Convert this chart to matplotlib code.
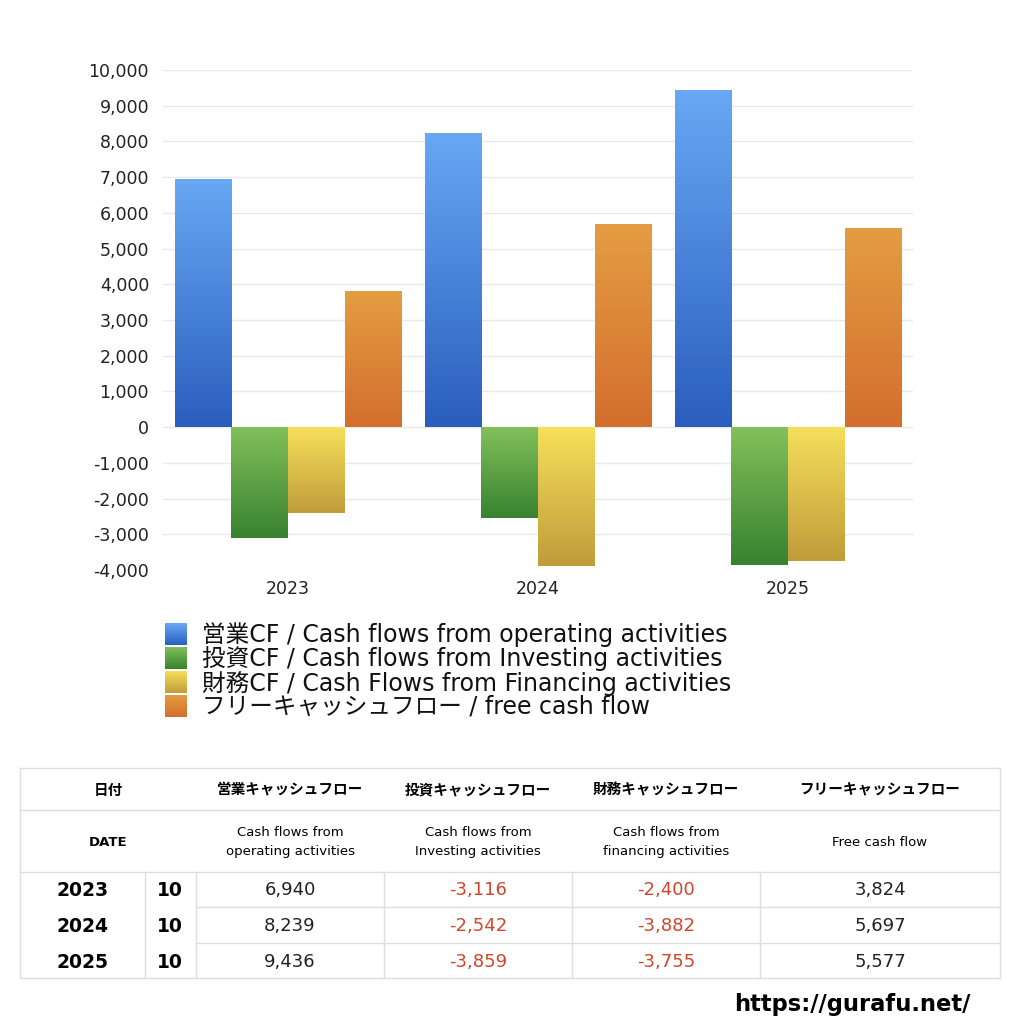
import numpy as np
import matplotlib
matplotlib.use("Agg")
import matplotlib.pyplot as plt
from matplotlib.colors import to_rgb
from matplotlib.lines import Line2D

plt.rcParams['font.family'] = ['DejaVu Sans', 'Noto Sans CJK JP']

# data
years = ['2023', '2024', '2025']
months = ['10', '10', '10']
operating_cf = [6940, 8239, 9436]
investing_cf = [-3116, -2542, -3859]
financing_cf = [-2400, -3882, -3755]
free_cf = [3824, 5697, 5577]

series_labels = [
    '営業CF / Cash flows from operating activities',
    '投資CF / Cash flows from Investing activities',
    '財務CF / Cash Flows from Financing activities',
    'フリーキャッシュフロー / free cash flow',
]
header_jp = ['営業キャッシュフロー', '投資キャッシュフロー', '財務キャッシュフロー', 'フリーキャッシュフロー']
header_en = ['Cash flows from\noperating activities', 'Cash flows from\nInvesting activities',
             'Cash flows from\nfinancing activities', 'Free cash flow']

# gradient colours (top, bottom)
grads = [('#68a8f4', '#2a5ebe'), ('#82c05a', '#388230'),
         ('#f6e05a', '#c09c3a'), ('#e49d42', '#d46e2e')]

W = H = 1024
fig = plt.figure(figsize=(10.24, 10.24), dpi=100)


def fx(px):
    return px / W


def fy(py):
    return 1 - py / H


def grad_img(i):
    c_top, c_bot = np.array(to_rgb(grads[i][0])), np.array(to_rgb(grads[i][1]))
    t = np.linspace(0, 1, 256)[:, None]
    return (c_top * (1 - t) + c_bot * t)[:, None, :]


ax = fig.add_axes([fx(163), fy(570), fx(913) - fx(163), fy(70) - fy(570)])

x = np.arange(len(years))
bw = 0.227
all_series = [operating_cf, investing_cf, financing_cf, free_cf]
for i, vals in enumerate(all_series):
    offs = (i - 1.5) * bw
    bars = ax.bar(x + offs, vals, bw, color='none', edgecolor='none', zorder=2)
    img = grad_img(i)
    for p in bars.patches:
        bb = p.get_bbox()
        im = ax.imshow(img, extent=(bb.xmin, bb.xmax, bb.ymin, bb.ymax), origin='upper',
                       aspect='auto', zorder=2, interpolation='bilinear')
        im.set_clip_path(p)

ax.set_xlim(-0.5, 2.5)
ax.set_ylim(-4000, 10000)
ax.set_yticks(np.arange(-4000, 10001, 1000))
ax.yaxis.set_major_formatter(matplotlib.ticker.FuncFormatter(lambda v, p: f'{int(v):,}'))
ax.set_xticks(x)
ax.set_xticklabels(years)
ax.tick_params(length=0, labelsize=12.5, colors='#222222', pad=7)
ax.tick_params(axis='y', pad=10)
ax.grid(axis='y', color='#e9e9e9', linewidth=1, zorder=0)
ax.set_axisbelow(True)
for s in ax.spines.values():
    s.set_visible(False)

# legend
leg_y = [634, 658, 682, 706]
for i in range(4):
    lax = fig.add_axes([fx(165), fy(leg_y[i] + 11), fx(22), fx(22)])
    lax.imshow(grad_img(i), aspect='auto', interpolation='bilinear')
    lax.axis('off')
    fig.text(fx(202), fy(leg_y[i] + 1), series_labels[i], fontsize=17, va='center',
             ha='left', color='#111111')

# table
grid_c = '#dedede'


def hline(y, x0, x1):
    fig.add_artist(Line2D([fx(x0), fx(x1)], [fy(y), fy(y)], color=grid_c, lw=1))


def vline(xp, y0, y1):
    fig.add_artist(Line2D([fx(xp), fx(xp)], [fy(y0), fy(y1)], color=grid_c, lw=1))


t_left, t_right = 20, 1000
hline(768, t_left, t_right)
hline(810, t_left, t_right)
hline(872, t_left, t_right)
hline(978, t_left, t_right)
hline(907, 196, t_right)
hline(943, 196, t_right)
vline(t_left, 768, 978)
vline(t_right, 768, 978)
for xp in [145, 196, 384, 572, 760]:
    vline(xp, 872, 978)

col_centers = [290, 478, 666, 880]
fig.text(fx(108), fy(790), '日付', fontsize=10.5, fontweight='bold', ha='center', va='center')
fig.text(fx(108), fy(842), 'DATE', fontsize=9.5, fontweight='bold', ha='center', va='center')
for j in range(4):
    fig.text(fx(col_centers[j]), fy(790), header_jp[j], fontsize=10.5, fontweight='bold',
             ha='center', va='center')
    fig.text(fx(col_centers[j]), fy(842), header_en[j], fontsize=9.5, ha='center',
             va='center', linespacing=1.55)

row_y = [890, 926, 962]
for r in range(3):
    fig.text(fx(83), fy(row_y[r]), years[r], fontsize=13.5, fontweight='bold',
             ha='center', va='center')
    fig.text(fx(170), fy(row_y[r]), months[r], fontsize=13.5, fontweight='bold',
             ha='center', va='center')
    for j, vals in enumerate(all_series):
        v = vals[r]
        fig.text(fx(col_centers[j]), fy(row_y[r]), f'{v:,}', fontsize=13,
                 ha='center', va='center', color='#d0452c' if v < 0 else '#222222')

fig.text(fx(970), fy(1004), 'https://gurafu.net/', fontsize=16.3, fontweight='bold',
         ha='right', va='center')

fig.savefig('out.png', dpi=100, facecolor='white')
